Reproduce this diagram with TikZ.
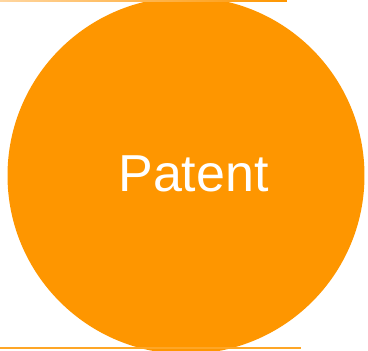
\documentclass[tikz,border=0pt]{standalone}
\usepackage{fontspec}
\setmainfont{Liberation Sans}
\usetikzlibrary{positioning}
\definecolor{patentorange}{RGB}{254,150,0}
\definecolor{palerule}{RGB}{255,214,160}

\begin{document}
\begin{tikzpicture}[x=1pt,y=1pt]
    \tikzstyle{disc}=[circle,fill=patentorange,inner sep=0pt,minimum size=357pt]
    \tikzstyle{label}=[text=white,font=\fontsize{52}{60}\selectfont,inner sep=0pt]
    \useasboundingbox (0,0) rectangle (368,351);
    \clip (0,0) rectangle (368,351);
    \node[disc] (patent) at (186,175.5) {};
    \node[label] (patentText) at (193.5,177) {Patent};
    % thin rules above and below
    \shade[left color=palerule,right color=patentorange] (0,349.5) rectangle (287,351);
    \fill[patentorange!85] (0,1.8) rectangle (301,3.8);
\end{tikzpicture}
\end{document}
